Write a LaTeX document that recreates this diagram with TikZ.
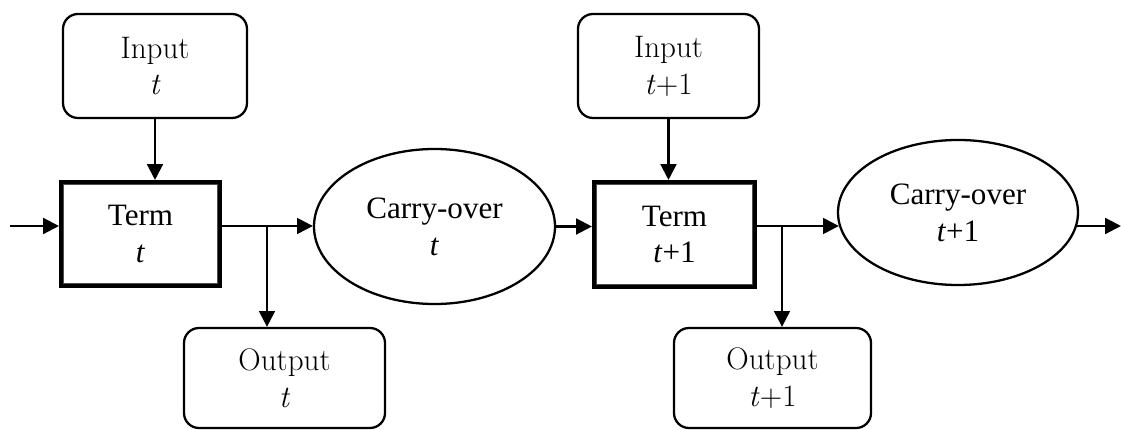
\documentclass[tikz,border=0pt]{standalone}
\usepackage{fontspec}
\setmainfont{Liberation Serif}
\newfontfamily\lmfont{Latin Modern Roman}
\usetikzlibrary{arrows.meta, positioning, shapes.geometric, calc}
\tikzset{
  iobox/.style   = {draw, rounded corners=0.3cm, line width=1.3pt, align=center,
                    inner sep=0pt, font=\lmfont\fontsize{17.7}{21}\selectfont},
  termbox/.style = {draw, line width=2.6pt, align=center, inner sep=0pt,
                    font=\fontsize{17.7}{21}\selectfont},
  carry/.style   = {ellipse, draw, line width=1.3pt, align=center, inner sep=0pt,
                    font=\fontsize{17.7}{21}\selectfont},
  arrow/.style   = {-{Triangle[length=9pt, width=9pt]}, line width=1.3pt},
}

\begin{document}
\begin{tikzpicture}

  \useasboundingbox (0,0) rectangle (22.42,8.6);

  % step t
  \node[iobox, minimum width=3.68cm, minimum height=2.08cm] (inA) at (3.10,7.28) {Input\\ \textit{t}};
  \node[termbox, minimum width=3.17cm, minimum height=2.07cm] (termA) at (2.81,3.92) {Term\\ \textit{t}};
  \node[carry, minimum width=4.82cm, minimum height=3.10cm] (coA) at (8.69,4.07) {Carry-over\\ \textit{t}};
  \node[iobox, minimum width=4.02cm, minimum height=2.0cm] (outA) at (5.69,1.04) {Output\\ \textit{t}};

  % step t+1
  \node[iobox, minimum width=3.62cm, minimum height=2.08cm] (inB) at (13.37,7.28) {Input\\ \textit{t}+1};
  \node[termbox, minimum width=3.21cm, minimum height=2.09cm] (termB) at (13.49,3.91) {Term\\ \textit{t}+1};
  \node[carry, minimum width=4.80cm, minimum height=2.90cm] (coB) at (19.16,4.35) {Carry-over\\ \textit{t}+1};
  \node[iobox, minimum width=3.94cm, minimum height=2.0cm] (outB) at (15.45,1.04) {Output\\ \textit{t}+1};

  % inner line of the term boxes
  \foreach \n in {termA, termB}
    \draw[gray!60!black, line width=0.7pt] ([shift={(0.09,-0.09)}]\n.north west) rectangle ([shift={(-0.09,0.09)}]\n.south east);

  \coordinate (start) at (0.2,4.08);
  \coordinate (brA) at (5.34,4.08);
  \coordinate (brB) at (15.64,4.08);
  \coordinate (stop) at (22.42,4.08);

  \draw[arrow] (inA.south) -- (inA.south |- termA.north);
  \draw[arrow] (inB.south) -- (inB.south |- termB.north);
  \draw[arrow] (start) -- (start -| termA.west);
  \draw[arrow] (termA.east |- start) -- (coA.west |- start);
  \draw[arrow] (brA) -- (brA |- outA.north);
  \draw[arrow] (coA.east) -- (termB.west |- coA.east);
  \draw[arrow] (termB.east |- start) -- ($(coB.west |- start)+(0.04,0)$);
  \draw[arrow] (brB) -- (brB |- outB.north);
  \draw[arrow] ($(coB.east |- start)-(0.04,0)$) -- (stop);

\end{tikzpicture}
\end{document}
